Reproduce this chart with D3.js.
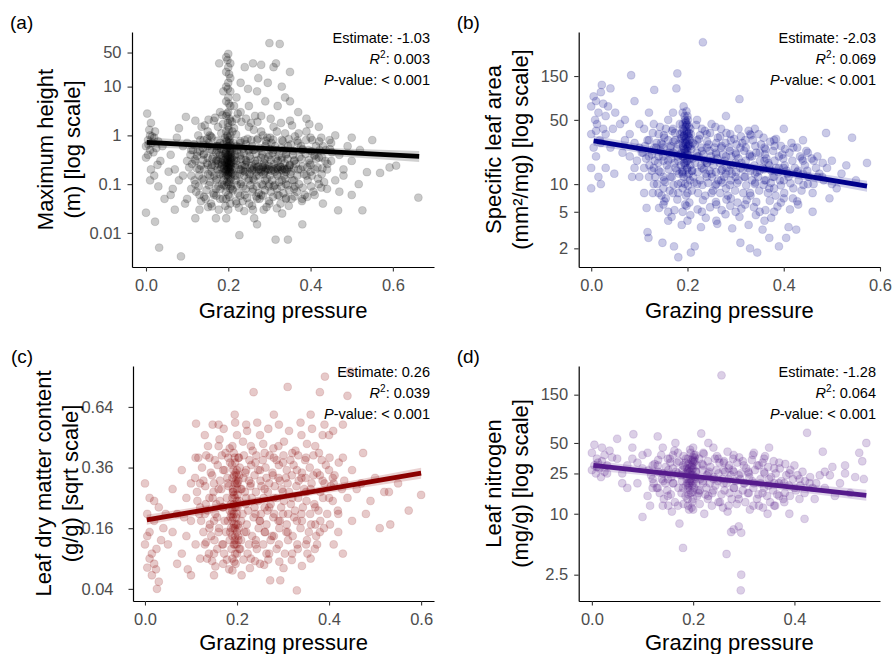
<!DOCTYPE html>
<html>
<head>
<meta charset="utf-8">
<script src="https://cdn.jsdelivr.net/npm/d3@7"></script>
<style>
body { margin: 0; background: #fff; }
text { font-family: "Liberation Sans", Arial, sans-serif; }
</style>
</head>
<body>
<div id="chart"></div>
<script>
var width = 893;
var height = 654;

// grazing pressure vs maximum height (m)
var heightPoints = [
[0.005,0.8],[0.01,1.0],[0.0,0.6],[0.015,0.7],[0.02,0.9],[0.008,1.3],[0.003,2.8],[0.012,1.8],[0.025,0.55],[0.018,0.45],
[0.005,0.4],[0.03,0.75],[0.022,1.2],[0.01,0.5],[0.0,0.35],[0.035,0.3],[0.028,0.25],[0.012,0.2],[0.04,0.6],[0.006,0.65],
[0.015,0.95],[0.02,0.15],[0.0,0.026],[0.022,0.017],[0.032,0.005],[0.045,0.05],[0.03,0.09],[0.01,0.12],
[0.06,0.4],[0.07,0.2],[0.08,0.12],[0.085,0.0033],[0.09,0.6],[0.097,2.4],[0.065,0.08],[0.075,0.9],[0.1,0.3],[0.1,0.05],
[0.055,0.18],[0.09,0.15],[0.095,0.04],[0.08,1.4],[0.07,0.03],[0.06,0.06],
[0.11,0.5],[0.12,0.3],[0.13,0.2],[0.14,0.8],[0.11,0.15],[0.12,0.1],[0.13,0.06],[0.14,0.4],[0.15,1.2],[0.12,2.0],
[0.1,0.7],[0.13,0.03],[0.15,0.25],[0.14,0.12],[0.11,0.08],[0.15,0.6],[0.12,0.02],[0.135,1.5],[0.145,0.05],[0.125,0.45],
[0.105,0.22],[0.15,0.35],
[0.16,0.5],[0.17,0.3],[0.18,0.2],[0.16,0.9],[0.17,0.12],[0.18,0.7],[0.165,0.06],[0.175,1.5],[0.16,0.25],[0.18,0.4],
[0.17,0.08],[0.155,0.15],[0.185,0.1],[0.16,0.035],[0.175,0.6],[0.18,3.0],[0.165,2.0],[0.17,0.45],[0.185,0.25],[0.16,0.18],
[0.18,0.05],[0.17,0.02],[0.155,1.0],[0.175,0.3],
[0.2,47],[0.195,40],[0.205,30],[0.2,25],[0.195,20],[0.205,15],[0.2,12],[0.195,10],[0.205,8],[0.2,6],
[0.195,5],[0.205,4],[0.2,3],[0.195,2.5],[0.205,2],[0.2,1.5],[0.195,1.2],[0.205,1],[0.2,0.9],[0.195,0.8],
[0.205,0.7],[0.2,0.6],[0.195,0.5],[0.205,0.45],[0.2,0.4],[0.195,0.35],[0.205,0.3],[0.2,0.3],[0.195,0.25],[0.205,0.25],
[0.2,0.2],[0.195,0.2],[0.205,0.18],[0.2,0.15],[0.195,0.15],[0.205,0.12],[0.2,0.1],[0.195,0.09],[0.205,0.08],[0.2,0.06],
[0.195,0.05],[0.205,0.04],[0.2,0.03],[0.195,0.02],[0.2,0.35],[0.198,0.28],[0.202,0.22],[0.197,0.4],[0.203,0.5],[0.2,0.18],
[0.22,0.6],[0.23,0.4],[0.24,0.25],[0.22,0.15],[0.23,0.1],[0.24,0.8],[0.21,1.2],[0.22,0.3],[0.23,0.2],[0.25,0.5],
[0.24,0.06],[0.21,0.08],[0.227,0.009],[0.22,0.04],[0.24,25],[0.23,3],[0.25,1.5],[0.21,0.35],[0.24,0.18],[0.22,2.2],
[0.23,0.7],[0.25,0.12],[0.215,0.5],[0.235,0.045],[0.245,0.3],[0.22,6],[0.23,12],[0.25,4],
[0.26,0.2],[0.27,0.22],[0.28,0.18],[0.29,0.25],[0.26,0.5],[0.27,0.8],[0.28,0.35],[0.29,0.12],[0.26,0.08],[0.27,0.05],
[0.28,1.2],[0.29,0.6],[0.3,0.2],[0.3,0.4],[0.26,30],[0.28,28],[0.3,78],[0.27,8],[0.29,5],[0.26,0.03],
[0.28,0.06],[0.3,0.1],[0.275,0.15],[0.285,0.23],[0.265,0.3],[0.295,0.9],[0.255,1.8],[0.28,2.5],[0.3,0.04],[0.27,0.015],
[0.29,0.19],[0.26,0.13],
[0.31,0.2],[0.32,0.22],[0.33,0.2],[0.34,0.18],[0.31,0.5],[0.32,0.3],[0.33,0.12],[0.34,0.4],[0.31,25],[0.315,0.0073],
[0.325,75],[0.345,0.0073],[0.32,0.06],[0.33,0.8],[0.34,0.1],[0.35,0.25],[0.31,1.5],[0.32,4],[0.33,10],[0.35,20],
[0.34,0.05],[0.31,0.09],[0.33,0.35],[0.32,0.15],[0.305,0.7],[0.335,0.21],[0.345,0.6],[0.35,2],
[0.36,0.3],[0.37,0.2],[0.38,0.5],[0.39,0.15],[0.4,0.25],[0.41,0.4],[0.42,0.1],[0.43,0.6],[0.44,0.2],[0.45,0.3],
[0.36,0.08],[0.38,0.05],[0.4,0.9],[0.42,1.5],[0.37,3],[0.39,1.2],[0.41,0.06],[0.44,0.08],[0.38,0.015],[0.36,0.12],
[0.43,0.04],[0.4,0.18],[0.45,0.7],[0.37,0.7],[0.42,0.35],[0.39,2.2],[0.35,5],
[0.47,0.4],[0.48,0.2],[0.5,0.3],[0.467,0.029],[0.526,0.029],[0.517,0.1],[0.537,0.176],[0.569,0.17],[0.592,0.22],[0.608,0.24],
[0.662,0.053],[0.46,0.12],[0.49,0.6],[0.52,0.5],[0.47,0.07],[0.5,0.9],[0.55,0.8],[0.46,1.0],[0.48,0.15],[0.5,0.06],
[0.143,1.6],[0.187,1.7],[0.214,1.4],[0.262,1.3],[0.318,1.2],[0.371,1.1],[0.168,2.3],[0.232,1.9],
[0.127,1.0],[0.158,0.95],[0.183,1.1],[0.192,0.9],[0.219,1.05],[0.247,0.85],[0.284,1.0],[0.302,0.9],[0.338,1.1],[0.362,0.95],[0.404,0.8],[0.426,0.9],
[0.117,0.65],[0.138,0.55],[0.152,0.7],[0.171,0.6],[0.188,0.65],[0.197,0.55],[0.206,0.62],[0.212,0.7],[0.226,0.58],[0.243,0.66],
[0.258,0.6],[0.277,0.55],[0.293,0.68],[0.314,0.6],[0.329,0.55],[0.352,0.65],[0.377,0.6],[0.395,0.5],[0.413,0.6],[0.437,0.5],
[0.108,0.4],[0.124,0.38],[0.141,0.42],[0.163,0.36],[0.178,0.44],[0.186,0.38],[0.193,0.42],[0.199,0.38],[0.204,0.36],[0.209,0.44],
[0.217,0.4],[0.228,0.37],[0.238,0.43],[0.252,0.38],[0.268,0.42],[0.283,0.4],[0.297,0.36],[0.308,0.44],[0.322,0.38],[0.341,0.42],
[0.357,0.4],[0.373,0.36],[0.388,0.42],[0.409,0.38],[0.428,0.35],[0.452,0.45],
[0.112,0.26],[0.133,0.24],[0.148,0.27],[0.167,0.24],[0.176,0.26],[0.184,0.28],[0.191,0.24],[0.196,0.27],[0.201,0.26],[0.207,0.23],
[0.213,0.27],[0.222,0.25],[0.233,0.24],[0.244,0.28],[0.257,0.24],[0.266,0.26],[0.273,0.23],[0.287,0.27],[0.298,0.24],[0.311,0.26],
[0.326,0.23],[0.337,0.27],[0.349,0.24],[0.364,0.26],[0.381,0.23],[0.398,0.27],[0.417,0.22],[0.441,0.26],
[0.258,0.19],[0.268,0.18],[0.279,0.2],[0.288,0.18],[0.296,0.2],[0.304,0.19],[0.313,0.18],[0.321,0.2],[0.332,0.19],[0.343,0.2],
[0.352,0.18],[0.236,0.19],[0.247,0.18],[0.186,0.17],[0.193,0.18],[0.198,0.16],[0.203,0.19],[0.21,0.17],
[0.118,0.12],[0.137,0.13],[0.156,0.11],[0.172,0.13],[0.189,0.12],[0.197,0.11],[0.206,0.13],[0.218,0.12],[0.231,0.11],[0.249,0.13],
[0.263,0.12],[0.281,0.1],[0.294,0.13],[0.307,0.12],[0.324,0.11],[0.339,0.13],[0.356,0.12],[0.372,0.1],[0.393,0.12],[0.418,0.13],[0.433,0.11],
[0.122,0.07],[0.147,0.075],[0.164,0.065],[0.181,0.08],[0.194,0.07],[0.211,0.075],[0.224,0.065],[0.242,0.08],[0.259,0.07],[0.274,0.065],
[0.289,0.075],[0.303,0.07],[0.318,0.08],[0.334,0.065],[0.348,0.075],[0.367,0.07],[0.386,0.06],[0.407,0.07],
[0.134,0.045],[0.158,0.04],[0.187,0.05],[0.219,0.045],[0.251,0.04],[0.276,0.05],[0.299,0.045],[0.327,0.04],[0.354,0.05],[0.379,0.045],
[0.177,0.03],[0.239,0.028],[0.286,0.03],[0.331,0.025],[0.263,0.02],
[0.198,35],[0.202,18],[0.199,9],[0.201,4.5],[0.197,2.8],[0.203,2.2],[0.199,1.8],[0.201,1.3],[0.196,0.75],[0.204,0.55],
[0.198,0.32],[0.202,0.27],[0.199,0.22],[0.201,0.17],[0.2,0.13],
[0.214,4],[0.248,9],[0.273,15],[0.296,12],[0.316,30],[0.338,6],[0.188,8],[0.178,30],[0.265,2.5],
[0.132,0.8],[0.149,0.85],[0.174,0.78],[0.203,0.82],[0.229,0.76],[0.256,0.8],[0.272,0.86],[0.291,0.78],[0.309,0.82],[0.333,0.76],
[0.347,0.84],[0.368,0.78],[0.389,0.8],[0.421,0.75],[0.446,0.8],
[0.114,0.5],[0.131,0.48],[0.156,0.52],[0.173,0.5],[0.182,0.53],[0.189,0.48],[0.208,0.52],[0.221,0.49],[0.236,0.53],[0.249,0.48],
[0.263,0.51],[0.281,0.47],[0.301,0.52],[0.319,0.49],[0.336,0.51],[0.358,0.48],[0.381,0.52],[0.402,0.47],[0.422,0.5],[0.447,0.52],
[0.119,0.32],[0.139,0.31],[0.161,0.33],[0.172,0.31],[0.181,0.33],[0.188,0.31],[0.206,0.33],[0.214,0.31],[0.231,0.33],[0.242,0.31],
[0.254,0.33],[0.271,0.31],[0.289,0.33],[0.303,0.31],[0.316,0.33],[0.329,0.31],[0.344,0.33],[0.361,0.31],[0.378,0.33],[0.396,0.31],
[0.414,0.33],[0.436,0.3],
[0.124,0.21],[0.142,0.2],[0.159,0.22],[0.174,0.2],[0.183,0.22],[0.19,0.21],[0.208,0.2],[0.216,0.22],[0.227,0.2],[0.241,0.22],
[0.253,0.21],[0.262,0.22],[0.274,0.2],[0.283,0.22],[0.292,0.21],[0.307,0.22],[0.317,0.21],[0.328,0.22],[0.338,0.2],[0.347,0.22],
[0.359,0.21],[0.376,0.2],[0.392,0.22],[0.411,0.2],[0.429,0.21],
[0.129,0.15],[0.151,0.16],[0.166,0.15],[0.179,0.16],[0.188,0.15],[0.207,0.16],[0.216,0.15],[0.228,0.16],[0.239,0.15],[0.252,0.16],
[0.268,0.15],[0.286,0.16],[0.301,0.15],[0.319,0.16],[0.336,0.15],[0.351,0.16],[0.368,0.15],[0.384,0.16],[0.403,0.15],[0.427,0.16],
[0.128,0.09],[0.153,0.095],[0.176,0.09],[0.189,0.095],[0.207,0.09],[0.221,0.095],[0.236,0.09],[0.254,0.095],[0.269,0.09],[0.284,0.095],
[0.298,0.09],[0.313,0.095],[0.329,0.09],[0.344,0.095],[0.362,0.09],[0.381,0.085],[0.401,0.09],[0.426,0.085],
[0.141,0.055],[0.171,0.058],[0.203,0.055],[0.229,0.058],[0.246,0.052],[0.268,0.056],[0.284,0.058],[0.309,0.055],[0.324,0.058],[0.341,0.052],
[0.361,0.056],[0.392,0.055],
[0.151,0.034],[0.193,0.036],[0.226,0.033],[0.258,0.036],[0.293,0.034],[0.318,0.032],[0.347,0.036],
[0.152,2.1],[0.186,2.6],[0.209,1.9],[0.223,2.8],[0.243,2.2],[0.271,1.9],[0.303,2.2],[0.328,1.8],[0.355,1.6],[0.397,1.7],
[0.192,0.28],[0.207,0.28],[0.194,0.45],[0.206,0.4],[0.193,0.32],[0.208,0.35],[0.197,0.23],[0.203,0.24],[0.196,0.19],[0.204,0.21],
[0.199,0.6],[0.201,0.7],[0.198,1.0],[0.202,0.11]
];

// grazing pressure vs specific leaf area (mm2/mg)
var slaPoints = [
[0.005,90],[0.01,80],[0.0,70],[0.015,60],[0.02,100],[0.008,50],[0.012,45],[0.025,40],[0.0,35],[0.018,30],
[0.03,55],[0.035,70],[0.005,25],[0.01,20],[0.02,28],[0.0,15],[0.015,12],[0.02,10],[0.0,9],[0.03,15],
[0.04,110],[0.022,120],[0.045,40],[0.05,60],[0.04,25],[0.03,35],[0.01,38],[0.025,75],[0.048,13],[0.06,45],
[0.07,30],[0.08,20],[0.09,15],[0.1,25],[0.11,40],[0.12,12],[0.083,153],[0.09,80],[0.1,12],[0.11,8],
[0.12,30],[0.07,50],[0.08,35],[0.095,18],[0.105,22],[0.115,5.5],[0.117,3],[0.119,2.6],[0.1,45],[0.12,20],
[0.065,22],[0.085,12],[0.11,15],[0.12,60],[0.09,28],
[0.13,15],[0.14,20],[0.15,25],[0.16,30],[0.17,40],[0.13,10],[0.14,8],[0.15,12],[0.16,18],[0.17,22],
[0.131,106],[0.148,2.3],[0.172,2.1],[0.15,6],[0.16,5],[0.14,35],[0.13,45],[0.17,60],[0.16,50],[0.15,9],
[0.175,15],[0.165,12],[0.145,28],[0.135,25],[0.155,40],[0.17,8],[0.16,4],[0.179,160],[0.177,110],[0.14,14],
[0.15,18],[0.165,26],[0.175,30],[0.18,20],[0.18,10],[0.155,7],
[0.19,60],[0.195,50],[0.2,45],[0.19,40],[0.2,35],[0.195,30],[0.19,28],[0.2,25],[0.195,22],[0.19,20],
[0.2,18],[0.195,16],[0.19,14],[0.2,12],[0.195,10],[0.19,9],[0.2,8],[0.195,6],[0.19,5],[0.2,4],
[0.181,1.6],[0.207,1.8],[0.192,70],[0.198,38],[0.188,32],[0.203,27],[0.197,24],[0.185,21],[0.205,19],[0.193,17],
[0.2,15],[0.19,13],[0.205,11],[0.185,35],[0.2,55],[0.196,42],[0.191,26],[0.204,30],
[0.22,20],[0.23,15],[0.24,12],[0.25,18],[0.26,10],[0.27,14],[0.28,20],[0.29,16],[0.3,12],[0.22,30],
[0.23,40],[0.24,25],[0.25,8],[0.26,6],[0.27,25],[0.28,9],[0.29,30],[0.3,22],[0.215,2.1],[0.232,349],
[0.22,50],[0.25,45],[0.27,40],[0.28,55],[0.23,5],[0.26,4],[0.29,7],[0.3,5],[0.22,10],[0.24,17],
[0.25,13],[0.27,11],[0.26,21],[0.28,13],[0.29,11],[0.23,23],[0.21,14],[0.3,17],[0.24,35],[0.26,28],
[0.31,15],[0.32,12],[0.33,20],[0.34,10],[0.35,14],[0.36,18],[0.37,9],[0.38,12],[0.39,15],[0.4,11],
[0.31,2.3],[0.33,2.0],[0.345,1.8],[0.39,2.1],[0.37,2.6],[0.308,84],[0.32,30],[0.34,40],[0.36,25],[0.38,30],
[0.32,6],[0.35,5],[0.38,5],[0.4,7],[0.33,8],[0.36,11],[0.31,25],[0.35,22],[0.37,16],[0.39,20],
[0.34,13],[0.4,15],[0.36,4],[0.33,35],[0.38,9],
[0.41,12],[0.42,9],[0.43,14],[0.44,18],[0.45,10],[0.46,8],[0.47,20],[0.48,12],[0.49,15],[0.5,10],
[0.405,2.6],[0.41,3.4],[0.426,3.2],[0.488,36],[0.542,32],[0.573,17],[0.53,16],[0.495,7],[0.42,25],[0.44,30],
[0.46,5],[0.47,12],[0.52,13],[0.51,9],[0.43,6],[0.45,22],[0.55,11],[0.5,18],[0.4,40],[0.44,13],
[0.143,42],[0.168,38],[0.184,45],[0.197,48],[0.206,40],[0.218,44],[0.236,38],[0.258,42],[0.281,36],[0.306,40],[0.327,38],[0.348,35],
[0.117,30],[0.136,28],[0.152,32],[0.171,29],[0.186,31],[0.193,34],[0.199,29],[0.204,32],[0.211,28],[0.224,31],
[0.241,29],[0.263,32],[0.279,28],[0.297,31],[0.314,28],[0.336,30],[0.353,27],[0.372,29],[0.394,26],[0.416,28],
[0.108,22],[0.126,21],[0.144,23],[0.162,22],[0.178,24],[0.187,22],[0.194,23],[0.201,21],[0.208,24],[0.219,22],
[0.233,21],[0.246,23],[0.259,22],[0.274,21],[0.288,23],[0.301,21],[0.318,23],[0.329,21],[0.343,22],[0.361,21],
[0.378,23],[0.397,21],[0.412,22],[0.434,20],[0.458,19],
[0.121,16],[0.139,17],[0.157,16],[0.173,17],[0.186,16],[0.196,17],[0.206,16],[0.216,17],[0.228,16],[0.241,17],
[0.254,16],[0.267,17],[0.281,15],[0.296,16],[0.312,17],[0.326,15],[0.339,16],[0.356,15],[0.368,17],[0.384,15],
[0.402,16],[0.423,15],[0.444,16],[0.467,15],
[0.133,12],[0.151,11],[0.168,12],[0.183,13],[0.192,12],[0.203,13],[0.212,12],[0.226,11],[0.238,13],[0.251,12],
[0.264,11],[0.276,12],[0.292,13],[0.306,11],[0.318,12],[0.334,11],[0.347,12],[0.363,11],[0.377,12],[0.392,11],
[0.408,13],[0.431,11],[0.452,12],[0.483,11],
[0.128,8],[0.146,7.5],[0.163,8.5],[0.181,8],[0.197,7.5],[0.209,8.5],[0.222,8],[0.237,7.5],[0.253,8.5],[0.268,8],
[0.284,7.5],[0.299,8.5],[0.316,8],[0.331,7.5],[0.349,8.5],[0.367,8],[0.383,7.5],[0.401,8],[0.419,7],[0.437,8.5],
[0.141,5.5],[0.173,5.2],[0.198,5.8],[0.221,5.3],[0.247,5.6],[0.271,5.2],[0.289,5.8],[0.312,5.4],[0.338,5.6],[0.362,5.2],
[0.387,5.7],[0.413,5.3],
[0.188,3.6],[0.228,3.4],[0.262,3.7],[0.293,3.3],[0.327,3.6],[0.356,3.2],
[0.194,55],[0.198,62],[0.201,50],[0.196,46],[0.199,37],[0.203,36],[0.192,33],[0.197,27],[0.2,23],[0.195,19],
[0.128,36],[0.151,34],[0.174,36],[0.189,37],[0.207,35],[0.226,34],[0.247,36],[0.268,33],[0.289,35],[0.311,33],
[0.332,34],[0.358,32],[0.384,31],
[0.112,26],[0.131,25],[0.148,27],[0.165,25],[0.181,27],[0.191,25],[0.206,26],[0.215,27],[0.229,25],[0.244,27],
[0.256,25],[0.271,26],[0.286,25],[0.302,27],[0.321,25],[0.341,26],[0.362,24],[0.381,26],[0.403,24],[0.428,25],[0.447,23],
[0.114,19],[0.132,18],[0.149,20],[0.166,19],[0.181,18],[0.191,20],[0.199,18],[0.211,19],[0.223,20],[0.236,18],
[0.249,20],[0.262,19],[0.277,18],[0.291,20],[0.306,19],[0.321,18],[0.334,20],[0.351,18],[0.364,19],[0.381,18],
[0.399,19],[0.418,18],[0.438,19],[0.462,18],[0.481,17],
[0.126,14],[0.144,13.5],[0.161,14.5],[0.178,14],[0.189,13.5],[0.199,14.5],[0.209,14],[0.221,13.5],[0.234,14.5],[0.246,14],
[0.259,13.5],[0.272,14.5],[0.287,14],[0.301,13.5],[0.315,14.5],[0.331,14],[0.344,13.5],[0.359,14.5],[0.374,14],[0.389,13.5],
[0.406,14],[0.428,13.5],[0.449,14],[0.474,13],
[0.137,10],[0.154,10.5],[0.171,9.8],[0.187,10.3],[0.201,9.7],[0.214,10.4],[0.231,9.8],[0.243,10.3],[0.258,9.7],[0.273,10.4],
[0.288,9.8],[0.303,10.3],[0.322,9.7],[0.341,10.4],[0.358,9.8],[0.373,10.3],[0.394,9.7],[0.414,10.2],[0.441,9.8],[0.462,10],
[0.152,6.5],[0.179,6.8],[0.204,6.3],[0.232,6.7],[0.259,6.4],[0.281,6.8],[0.304,6.3],[0.323,6.7],[0.343,6.4],[0.371,6.6],
[0.394,6.3],[0.428,6.5],
[0.167,4.4],[0.206,4.6],[0.238,4.3],[0.279,4.7],[0.308,4.4],[0.342,4.6],[0.374,4.3],
[0.193,38],[0.198,44],[0.202,33],[0.196,28],[0.201,26],[0.194,24],[0.199,21],[0.197,31],[0.203,42],[0.19,45]
];

// grazing pressure vs leaf dry matter content (g/g)
var ldmcPoints = [
[0.005,0.2],[0.01,0.15],[0.0,0.12],[0.015,0.1],[0.02,0.08],[0.005,0.073],[0.024,0.07],[0.026,0.04],[0.01,0.25],[0.03,0.22],
[0.02,0.18],[0.0,0.3],[0.015,0.06],[0.035,0.13],[0.04,0.16],[0.01,0.09],[0.025,0.11],[0.045,0.2],[0.03,0.05],[0.005,0.14],
[0.02,0.24],[0.05,0.12],
[0.06,0.15],[0.07,0.2],[0.08,0.1],[0.09,0.25],[0.1,0.3],[0.11,0.12],[0.093,0.07],[0.111,0.555],[0.07,0.08],[0.08,0.35],
[0.1,0.18],[0.12,0.22],[0.06,0.28],[0.09,0.14],[0.11,0.4],[0.12,0.09],[0.1,0.06],[0.085,0.19],
[0.13,0.2],[0.14,0.25],[0.15,0.3],[0.16,0.15],[0.17,0.35],[0.13,0.12],[0.14,0.4],[0.15,0.1],[0.16,0.45],[0.17,0.08],
[0.13,0.5],[0.15,0.18],[0.16,0.28],[0.17,0.22],[0.14,0.16],[0.12,0.3],[0.15,0.06],[0.16,0.55],[0.17,0.12],[0.18,0.3],
[0.18,0.18],[0.135,0.09],[0.155,0.23],[0.175,0.42],
[0.19,0.45],[0.195,0.4],[0.2,0.35],[0.19,0.32],[0.195,0.3],[0.2,0.28],[0.19,0.25],[0.195,0.22],[0.2,0.2],[0.19,0.18],
[0.195,0.16],[0.2,0.15],[0.19,0.14],[0.195,0.12],[0.2,0.1],[0.19,0.09],[0.19,0.068],[0.21,0.06],[0.2,0.5],[0.195,0.6],
[0.185,0.38],[0.205,0.33],[0.188,0.2],[0.198,0.17],[0.203,0.13],[0.192,0.27],[0.2,0.24],[0.185,0.15],[0.205,0.11],[0.19,0.21],
[0.22,0.25],[0.23,0.3],[0.24,0.2],[0.25,0.35],[0.26,0.28],[0.27,0.22],[0.28,0.4],[0.29,0.18],[0.22,0.15],[0.23,0.45],
[0.24,0.12],[0.25,0.5],[0.26,0.15],[0.27,0.1],[0.28,0.25],[0.29,0.32],[0.236,0.72],[0.272,0.052],[0.294,0.052],[0.22,0.55],
[0.25,0.08],[0.28,0.6],[0.3,0.27],[0.24,0.38],[0.26,0.42],[0.22,0.35],[0.27,0.3],[0.29,0.45],[0.25,0.18],[0.23,0.09],
[0.28,0.14],[0.21,0.28],[0.26,0.22],[0.3,0.2],
[0.31,0.3],[0.32,0.25],[0.33,0.35],[0.34,0.2],[0.35,0.4],[0.36,0.28],[0.37,0.22],[0.38,0.33],[0.39,0.3],[0.4,0.25],
[0.31,0.75],[0.33,0.038],[0.31,0.15],[0.34,0.5],[0.36,0.6],[0.38,0.15],[0.32,0.1],[0.35,0.12],[0.37,0.45],[0.39,0.55],
[0.391,0.81],[0.38,0.72],[0.33,0.18],[0.35,0.27],[0.32,0.42],[0.36,0.09],[0.4,0.35],[0.34,0.32],[0.37,0.17],[0.3,0.38],
[0.41,0.3],[0.42,0.2],[0.43,0.4],[0.44,0.25],[0.45,0.35],[0.446,0.84],[0.44,0.7],[0.474,0.42],[0.48,0.2],[0.51,0.16],
[0.533,0.17],[0.573,0.21],[0.6,0.26],[0.52,0.27],[0.53,0.27],[0.42,0.15],[0.43,0.55],[0.46,0.28],[0.47,0.3],[0.5,0.32],
[0.41,0.12],[0.45,0.18],[0.49,0.24],[0.55,0.3],[0.43,0.1],[0.4,0.5],
[0.137,0.45],[0.162,0.48],[0.184,0.44],[0.213,0.47],[0.234,0.43],[0.257,0.46],[0.279,0.44],[0.302,0.47],[0.327,0.43],[0.352,0.46],[0.378,0.42],
[0.124,0.36],[0.143,0.34],[0.158,0.37],[0.173,0.35],[0.189,0.37],[0.197,0.34],[0.206,0.36],[0.218,0.34],[0.231,0.37],[0.246,0.35],
[0.262,0.36],[0.277,0.34],[0.291,0.37],[0.308,0.35],[0.323,0.37],[0.341,0.34],[0.358,0.36],[0.374,0.34],[0.393,0.37],[0.412,0.33],
[0.113,0.27],[0.131,0.29],[0.149,0.27],[0.166,0.28],[0.182,0.29],[0.191,0.27],[0.199,0.3],[0.208,0.28],[0.217,0.27],[0.229,0.29],
[0.241,0.27],[0.253,0.29],[0.267,0.27],[0.282,0.29],[0.297,0.28],[0.313,0.27],[0.329,0.29],[0.346,0.28],[0.362,0.3],[0.381,0.27],
[0.404,0.29],[0.428,0.28],
[0.118,0.2],[0.136,0.21],[0.153,0.2],[0.169,0.22],[0.184,0.21],[0.193,0.2],[0.201,0.22],[0.212,0.2],[0.224,0.21],[0.238,0.22],
[0.252,0.2],[0.266,0.21],[0.281,0.2],[0.296,0.22],[0.311,0.2],[0.326,0.21],[0.343,0.22],[0.359,0.2],[0.377,0.21],[0.396,0.2],[0.419,0.21],
[0.127,0.15],[0.144,0.14],[0.161,0.16],[0.176,0.15],[0.187,0.16],[0.196,0.14],[0.204,0.16],[0.216,0.15],[0.233,0.14],[0.247,0.16],
[0.261,0.15],[0.276,0.14],[0.292,0.16],[0.307,0.15],[0.321,0.14],[0.338,0.16],[0.356,0.15],[0.372,0.14],[0.389,0.16],
[0.139,0.1],[0.157,0.11],[0.172,0.1],[0.188,0.11],[0.196,0.1],[0.207,0.11],[0.223,0.1],[0.243,0.11],[0.264,0.1],[0.286,0.11],
[0.304,0.1],[0.332,0.11],[0.353,0.1],[0.369,0.11],
[0.153,0.075],[0.183,0.07],[0.197,0.08],[0.228,0.072],[0.259,0.078],[0.301,0.072],[0.341,0.076],
[0.192,0.35],[0.197,0.31],[0.201,0.26],[0.193,0.23],[0.198,0.19],[0.202,0.17],[0.195,0.13],[0.199,0.12],[0.191,0.28],[0.203,0.4],
[0.147,0.55],[0.171,0.53],[0.196,0.56],[0.222,0.52],[0.244,0.56],[0.268,0.53],[0.291,0.55],[0.313,0.52],[0.338,0.56],[0.363,0.53],
[0.386,0.5],[0.409,0.52],
[0.116,0.4],[0.133,0.41],[0.152,0.39],[0.167,0.41],[0.181,0.4],[0.193,0.42],[0.204,0.4],[0.215,0.41],[0.227,0.39],[0.242,0.41],
[0.256,0.39],[0.271,0.41],[0.286,0.39],[0.301,0.41],[0.316,0.39],[0.333,0.41],[0.348,0.39],[0.366,0.41],[0.384,0.39],[0.401,0.4],[0.421,0.38],
[0.109,0.32],[0.127,0.31],[0.146,0.33],[0.163,0.31],[0.179,0.32],[0.194,0.33],[0.203,0.31],[0.214,0.32],[0.226,0.31],[0.238,0.33],
[0.251,0.31],[0.264,0.32],[0.278,0.33],[0.293,0.31],[0.306,0.32],[0.319,0.33],[0.334,0.31],[0.349,0.32],[0.366,0.33],[0.386,0.31],
[0.408,0.32],[0.433,0.31],
[0.114,0.24],[0.132,0.23],[0.147,0.25],[0.163,0.24],[0.178,0.25],[0.187,0.23],[0.196,0.25],[0.205,0.24],[0.219,0.23],[0.232,0.25],
[0.246,0.24],[0.258,0.25],[0.273,0.23],[0.287,0.25],[0.302,0.24],[0.317,0.23],[0.333,0.25],[0.351,0.24],[0.368,0.23],[0.387,0.25],[0.408,0.24],
[0.122,0.18],[0.141,0.17],[0.157,0.19],[0.173,0.18],[0.186,0.19],[0.194,0.17],[0.209,0.18],[0.221,0.17],[0.236,0.19],[0.249,0.18],
[0.264,0.17],[0.279,0.19],[0.293,0.18],[0.308,0.17],[0.324,0.19],[0.341,0.18],[0.361,0.17],[0.381,0.18],[0.402,0.17],
[0.133,0.125],[0.151,0.13],[0.168,0.12],[0.184,0.13],[0.193,0.12],[0.209,0.13],[0.226,0.12],[0.241,0.13],[0.257,0.12],[0.273,0.13],
[0.291,0.12],[0.311,0.13],[0.331,0.12],[0.352,0.13],[0.374,0.12],
[0.146,0.085],[0.178,0.088],[0.194,0.084],[0.214,0.088],[0.239,0.085],[0.268,0.088],[0.292,0.084],[0.319,0.087],
[0.191,0.19],[0.198,0.22],[0.194,0.26],[0.201,0.3],[0.196,0.38],[0.202,0.14],[0.192,0.16],[0.199,0.33]
];

// grazing pressure vs leaf nitrogen (mg/g)
var nitrogenPoints = [
[0.005,30],[0.01,35],[0.0,40],[0.015,28],[0.02,45],[0.008,25],[0.012,32],[0.025,38],[0.0,27],[0.018,23],
[0.03,30],[0.035,42],[0.005,48],[0.02,33],[0.03,25],[0.04,36],[0.01,29],[0.025,26],
[0.05,55],[0.06,25],[0.07,30],[0.08,35],[0.09,20],[0.1,28],[0.11,40],[0.12,22],[0.082,61],[0.1,9.3],
[0.11,15],[0.12,18],[0.06,20],[0.08,45],[0.09,32],[0.07,18],[0.1,38],[0.12,30],[0.05,35],[0.115,12],
[0.13,58],[0.13,30],[0.14,25],[0.15,35],[0.16,20],[0.17,40],[0.13,18],[0.14,45],[0.15,15],[0.16,28],
[0.17,12],[0.15,22],[0.16,38],[0.14,12],[0.17,25],[0.173,8],[0.18,4.6],[0.18,30],[0.18,18],[0.165,50],
[0.155,32],[0.145,20],
[0.19,35],[0.195,30],[0.2,28],[0.19,25],[0.195,22],[0.2,20],[0.19,18],[0.195,16],[0.2,14],[0.19,12],
[0.195,40],[0.2,45],[0.185,32],[0.205,26],[0.188,23],[0.198,19],[0.192,28],[0.203,33],[0.2,11],[0.185,15],
[0.205,38],[0.193,21],[0.198,24],[0.21,17],
[0.22,30],[0.23,25],[0.24,22],[0.25,35],[0.26,20],[0.27,28],[0.28,18],[0.29,24],[0.3,30],[0.22,40],
[0.23,15],[0.24,45],[0.25,13],[0.26,32],[0.27,12],[0.28,38],[0.29,14],[0.216,62],[0.256,233],[0.266,4.0],
[0.275,6.6],[0.28,7],[0.29,7.5],[0.295,6.5],[0.295,2.5],[0.294,1.75],[0.22,20],[0.25,25],[0.27,22],[0.24,17],
[0.26,27],[0.3,20],[0.23,50],[0.28,26],
[0.31,25],[0.32,20],[0.33,30],[0.34,18],[0.35,22],[0.36,28],[0.37,15],[0.38,20],[0.39,25],[0.4,18],
[0.41,22],[0.42,16],[0.43,20],[0.44,14],[0.32,40],[0.34,35],[0.36,12],[0.38,13],[0.4,30],[0.42,8.9],
[0.425,63],[0.33,12],[0.35,45],[0.37,32],[0.39,10],[0.31,16],[0.45,24],[0.36,20],[0.34,26],[0.41,14],
[0.456,41],[0.475,29],[0.5,25],[0.528,40],[0.534,33],[0.537,22],[0.542,50],[0.46,18],[0.48,15],[0.47,24],
[0.49,20],[0.51,16],[0.52,23],[0.46,26],[0.5,30],
[0.137,38],[0.163,42],[0.181,37],[0.194,43],[0.203,36],[0.221,39],[0.247,37],[0.268,41],[0.291,36],[0.318,38],[0.342,37],
[0.124,31],[0.146,29],[0.168,32],[0.183,29],[0.191,31],[0.199,33],[0.207,30],[0.218,31],[0.234,29],[0.252,32],
[0.271,30],[0.287,32],[0.305,28],[0.327,30],[0.348,29],[0.371,28],[0.392,27],[0.416,26],
[0.117,24],[0.138,22],[0.157,23],[0.176,24],[0.187,22],[0.196,24],[0.204,23],[0.214,22],[0.227,24],[0.241,23],
[0.258,22],[0.274,24],[0.293,22],[0.311,23],[0.333,22],[0.354,23],[0.374,21],[0.397,22],[0.421,21],[0.443,20],
[0.128,18],[0.149,17],[0.171,18],[0.186,19],[0.194,17],[0.202,18],[0.213,17],[0.226,18],[0.244,19],[0.262,17],
[0.281,18],[0.298,17],[0.319,18],[0.337,16],[0.358,17],[0.381,16],[0.403,17],
[0.142,14],[0.164,13],[0.189,14],[0.198,13],[0.208,15],[0.229,14],[0.253,13],[0.276,14],[0.303,13],[0.326,14],[0.352,13],[0.378,14],
[0.158,10.5],[0.192,11],[0.222,10],[0.268,10.5],[0.312,11],[0.347,10],
[0.19,27],[0.196,34],[0.2,24],[0.193,20],[0.198,30],[0.202,38],
[0.131,34],[0.154,35],[0.172,33],[0.186,35],[0.201,34],[0.212,35],[0.229,33],[0.243,35],[0.261,33],[0.279,35],
[0.298,33],[0.316,34],[0.337,32],[0.359,33],[0.382,31],
[0.112,27],[0.131,26],[0.151,27],[0.166,26],[0.179,27],[0.189,26],[0.197,27],[0.206,26],[0.219,27],[0.231,26],
[0.246,27],[0.263,26],[0.278,27],[0.294,25],[0.309,26],[0.322,27],[0.341,25],[0.363,25],[0.384,24],[0.406,24],[0.431,23],
[0.122,20],[0.141,21],[0.161,20],[0.178,21],[0.189,20],[0.197,21],[0.206,20],[0.219,21],[0.233,20],[0.249,21],
[0.266,20],[0.284,21],[0.302,20],[0.317,21],[0.333,20],[0.349,19],[0.369,20],[0.389,19],[0.412,19],[0.436,18],
[0.134,16],[0.156,15.5],[0.177,16],[0.191,15.5],[0.199,16.5],[0.211,16],[0.224,15.5],[0.238,16],[0.256,15.5],[0.272,16],
[0.289,15.5],[0.308,16],[0.329,15.5],[0.346,15],[0.366,15.5],[0.391,15],
[0.151,12],[0.181,12.5],[0.197,11.5],[0.213,12.5],[0.237,12],[0.259,11.5],[0.286,12.5],[0.319,12],[0.338,11.5],[0.362,12],
[0.188,28],[0.194,26],[0.197,29],[0.201,32],[0.204,22],[0.191,19],[0.199,36],[0.186,25]
];

// fitted regression lines, start and end points
var heightFit = [[0.002, 0.72], [0.664, 0.37]];
var slaFit = [[0.005, 29.6], [0.573, 9.5]];
var ldmcFit = [[0.004, 0.183], [0.6, 0.338]];
var nitrogenFit = [[0.003, 30], [0.542, 15.2]];

// model summaries
var estimates = ["-1.03", "-2.03", "0.26", "-1.28"];
var rSquared = ["0.003", "0.069", "0.039", "0.064"];
var pValues = ["< 0.001", "< 0.001", "< 0.001", "< 0.001"];

// tick values
var heightTicks = [0.01, 0.1, 1, 10, 50];
var slaTicks = [2, 5, 10, 50, 150];
var ldmcTicks = [0.04, 0.16, 0.36, 0.64];
var nitrogenTicks = [2.5, 10, 25, 50, 150];
var grazingTicks = [0, 0.2, 0.4, 0.6];
var grazingTicksShort = [0, 0.2, 0.4];

var panels = [
	{ tag: "(a)", points: heightPoints, fit: heightFit, color: "#000000", yType: "log",
	  xDomain: [-0.034, 0.7], yDomain: [0.002, 131.8], xTicks: grazingTicks, yTicks: heightTicks,
	  yTitle: ["Maximum height", "(m) [log scale]"],
	  left: 132, right: 434, top: 32, bottom: 267, titleOffset: 87, yPad: 6, xTitleGap: 51 },
	{ tag: "(b)", points: slaPoints, fit: slaFit, color: "#00008B", yType: "log",
	  xDomain: [-0.026, 0.6], yDomain: [1.253, 452], xTicks: grazingTicks, yTicks: slaTicks,
	  yTitle: ["Specific leaf area", "(mm\u00b2/mg) [log scale]"],
	  left: 578.7, right: 880, top: 32, bottom: 267, titleOffset: 86, yPad: 6, xTitleGap: 51 },
	{ tag: "(c)", points: ldmcPoints, fit: ldmcFit, color: "#8B0000", yType: "sqrt",
	  xDomain: [-0.026, 0.628], yDomain: [0.0256, 0.874], xTicks: grazingTicks, yTicks: ldmcTicks,
	  yTitle: ["Leaf dry matter content", "(g/g) [sqrt scale]"],
	  left: 133, right: 434, top: 366, bottom: 601, titleOffset: 90, yPad: 15, xTitleGap: 49 },
	{ tag: "(d)", points: nitrogenPoints, fit: nitrogenFit, color: "#551A8B", yType: "log",
	  xDomain: [-0.026, 0.569], yDomain: [1.374, 288], xTicks: grazingTicksShort, yTicks: nitrogenTicks,
	  yTitle: ["Leaf nitrogen", "(mg/g) [log scale]"],
	  left: 578.7, right: 880, top: 366, bottom: 601, titleOffset: 86, yPad: 6, xTitleGap: 49 }
];

var svg = d3.select("#chart")
	.append("svg")
	.attr("width", width)
	.attr("height", height);

panels.forEach(function(p, i) {
	var x = d3.scaleLinear().domain(p.xDomain).range([p.left, p.right]);
	var y = (p.yType == "log" ? d3.scaleLog() : d3.scaleSqrt())
		.domain(p.yDomain)
		.range([p.bottom, p.top]);

	var g = svg.append("g");

	// points
	g.selectAll(".pt")
		.data(p.points)
		.enter()
		.append("circle")
		.attr("class", "pt")
		.attr("cx", d => x(d[0]))
		.attr("cy", d => y(d[1]))
		.attr("r", 3.9)
		.style("fill", p.color)
		.style("fill-opacity", 0.21)
		.style("stroke", p.color)
		.style("stroke-opacity", 0.13)
		.style("stroke-width", 1.1);

	// confidence band and fit line
	var x0 = x(p.fit[0][0]), y0 = y(p.fit[0][1]);
	var x1 = x(p.fit[1][0]), y1 = y(p.fit[1][1]);
	var xm = (x0 + x1) / 2, ym = (y0 + y1) / 2;
	var band = [[x0, y0 - 5], [xm, ym - 3], [x1, y1 - 5.5], [x1, y1 + 5.5], [xm, ym + 3], [x0, y0 + 5]];
	g.append("path")
		.attr("d", d3.line()(band) + "Z")
		.style("fill", p.color)
		.style("fill-opacity", 0.18);
	g.append("line")
		.attr("x1", x0).attr("y1", y0)
		.attr("x2", x1).attr("y2", y1)
		.style("stroke", p.color)
		.style("stroke-width", 4.8);

	// axes
	var xAxis = d3.axisBottom(x)
		.tickValues(p.xTicks)
		.tickFormat(d3.format(".1f"))
		.tickSize(4.5)
		.tickSizeOuter(0)
		.tickPadding(8);
	var yAxis = d3.axisLeft(y)
		.tickValues(p.yTicks)
		.tickFormat(d => String(d))
		.tickSize(4.5)
		.tickSizeOuter(0)
		.tickPadding(p.yPad);

	var ax = g.append("g").attr("transform", "translate(0," + p.bottom + ")").call(xAxis);
	var ay = g.append("g").attr("transform", "translate(" + p.left + ",0)").call(yAxis);
	[ax, ay].forEach(function(a) {
		a.select(".domain").style("stroke", "#000").style("stroke-width", 1.2);
		a.selectAll(".tick line").style("stroke", "#333").style("stroke-width", 1.1);
		a.selectAll(".tick text")
			.style("fill", "#4d4d4d")
			.style("font-size", "16.5px")
			.style("font-family", "Liberation Sans, Arial, sans-serif");
	});

	// axis titles
	g.append("text")
		.attr("x", (p.left + p.right) / 2)
		.attr("y", p.bottom + p.xTitleGap)
		.attr("text-anchor", "middle")
		.style("font-size", "22px")
		.text("Grazing pressure");

	var cy = (p.top + p.bottom) / 2;
	p.yTitle.forEach(function(line, j) {
		g.append("text")
			.attr("transform", "translate(" + (p.left - p.titleOffset + j * 27) + "," + cy + ") rotate(-90)")
			.attr("text-anchor", "middle")
			.attr("dy", "0.36em")
			.style("font-size", "22px")
			.text(line);
	});

	// panel tag
	g.append("text")
		.attr("x", p.left - 122)
		.attr("y", p.top - 3)
		.style("font-size", "19px")
		.text(p.tag);

	// model summary
	var sx = p.right - 4;
	g.append("text")
		.attr("x", sx).attr("y", p.top + 11)
		.attr("text-anchor", "end")
		.style("font-size", "14.5px")
		.text("Estimate: " + estimates[i]);
	var r2 = g.append("text")
		.attr("x", sx).attr("y", p.top + 32)
		.attr("text-anchor", "end")
		.style("font-size", "14.5px");
	r2.append("tspan").style("font-style", "italic").text("R");
	r2.append("tspan").attr("dy", -6).style("font-size", "10px").text("2");
	r2.append("tspan").attr("dy", 6).text(": " + rSquared[i]);
	var pv = g.append("text")
		.attr("x", sx).attr("y", p.top + 53)
		.attr("text-anchor", "end")
		.style("font-size", "14.5px");
	pv.append("tspan").style("font-style", "italic").text("P");
	pv.append("tspan").text("-value: " + pValues[i]);
});
</script>
</body>
</html>
